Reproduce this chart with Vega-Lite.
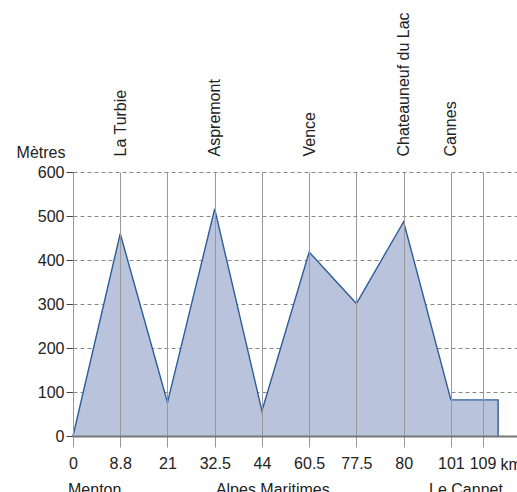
{
  "$schema": "https://vega.github.io/schema/vega-lite/v6.json",
  "width": 444,
  "height": 264,
  "autosize": "none",
  "padding": {"left": 73, "top": 172, "right": 0, "bottom": 56},
  "config": {
    "font": "Liberation Sans",
    "view": {"stroke": null},
    "axis": {
      "labelFont": "Liberation Sans",
      "labelFontSize": 16,
      "labelColor": "#222",
      "titleFont": "Liberation Sans",
      "titleFontSize": 16,
      "titleFontWeight": "normal",
      "titleColor": "#222"
    }
  },
  "datasets": {
    "profile": [
      {"pos": 0, "alt": 0},
      {"pos": 1, "alt": 460},
      {"pos": 2, "alt": 76},
      {"pos": 3, "alt": 516},
      {"pos": 4, "alt": 57},
      {"pos": 5, "alt": 418},
      {"pos": 6, "alt": 301},
      {"pos": 7, "alt": 487},
      {"pos": 8, "alt": 82},
      {"pos": 9, "alt": 82},
      {"pos": 9, "alt": 0}
    ],
    "places": [
      {"name": "Menton", "pos": 0.46},
      {"name": "Alpes Maritimes", "pos": 4.23},
      {"name": "Le Cannet", "pos": 8.32}
    ]
  },
  "layer": [
    {
      "data": {"name": "profile"},
      "mark": {"type": "area", "color": "#b9c4dc", "opacity": 1, "line": {"color": "#2c5d99", "strokeWidth": 1.4}},
      "encoding": {
        "x": {
          "field": "pos",
          "type": "quantitative",
          "scale": {"domain": [0, 9.4], "nice": false, "zero": false},
          "axis": {
            "orient": "bottom",
            "values": [0, 1, 2, 3, 4, 5, 6, 7, 8, 8.67],
            "labelExpr": "datum.value == 8.67 ? '109' : ['0','8.8','21','32.5','44','60.5','77.5','80','101'][datum.value]",
            "grid": true,
            "gridColor": "#999",
            "gridWidth": 1,
            "tickColor": "#999",
            "tickSize": 11,
            "domainColor": "#777",
            "domainWidth": 2,
            "labelPadding": 8,
            "labelFlush": false,
            "labelOverlap": false,
            "title": "km",
            "titleX": 427,
            "titleY": 33,
            "titleAlign": "left",
            "titleBaseline": "alphabetic",
            "zindex": 1
          }
        },
        "y": {
          "field": "alt",
          "type": "quantitative",
          "stack": null,
          "scale": {"domain": [0, 600], "nice": false},
          "axis": {
            "values": [0, 100, 200, 300, 400, 500, 600],
            "grid": true,
            "gridDash": [4, 3],
            "gridColor": "#888",
            "domainColor": "#444",
            "tickColor": "#444",
            "tickSize": 7,
            "labelPadding": 2,
            "title": "Mètres",
            "titleAngle": 0,
            "titleX": -8,
            "titleY": -15,
            "titleAlign": "right",
            "titleBaseline": "alphabetic",
            "zindex": 0
          }
        }
      }
    },
    {
      "data": {"name": "places"},
      "mark": {"type": "text", "align": "center", "baseline": "alphabetic", "fontSize": 16, "color": "#222", "font": "Liberation Sans"},
      "encoding": {
        "x": {
          "field": "pos",
          "type": "quantitative",
          "axis": {
            "orient": "top",
            "values": [1, 3, 5, 7, 8],
            "labelExpr": "['','La Turbie','','Aspremont','','Vence','','Chateauneuf du Lac','Cannes'][datum.value]",
            "labelAngle": -90,
            "labelAlign": "left",
            "labelBaseline": "middle",
            "labelPadding": 16,
            "labelOverlap": false,
            "labelFlush": false,
            "ticks": false,
            "domain": false,
            "grid": false,
            "title": null
          }
        },
        "y": {"datum": -133},
        "text": {"field": "name"}
      }
    }
  ],
  "resolve": {"axis": {"x": "independent"}}
}
